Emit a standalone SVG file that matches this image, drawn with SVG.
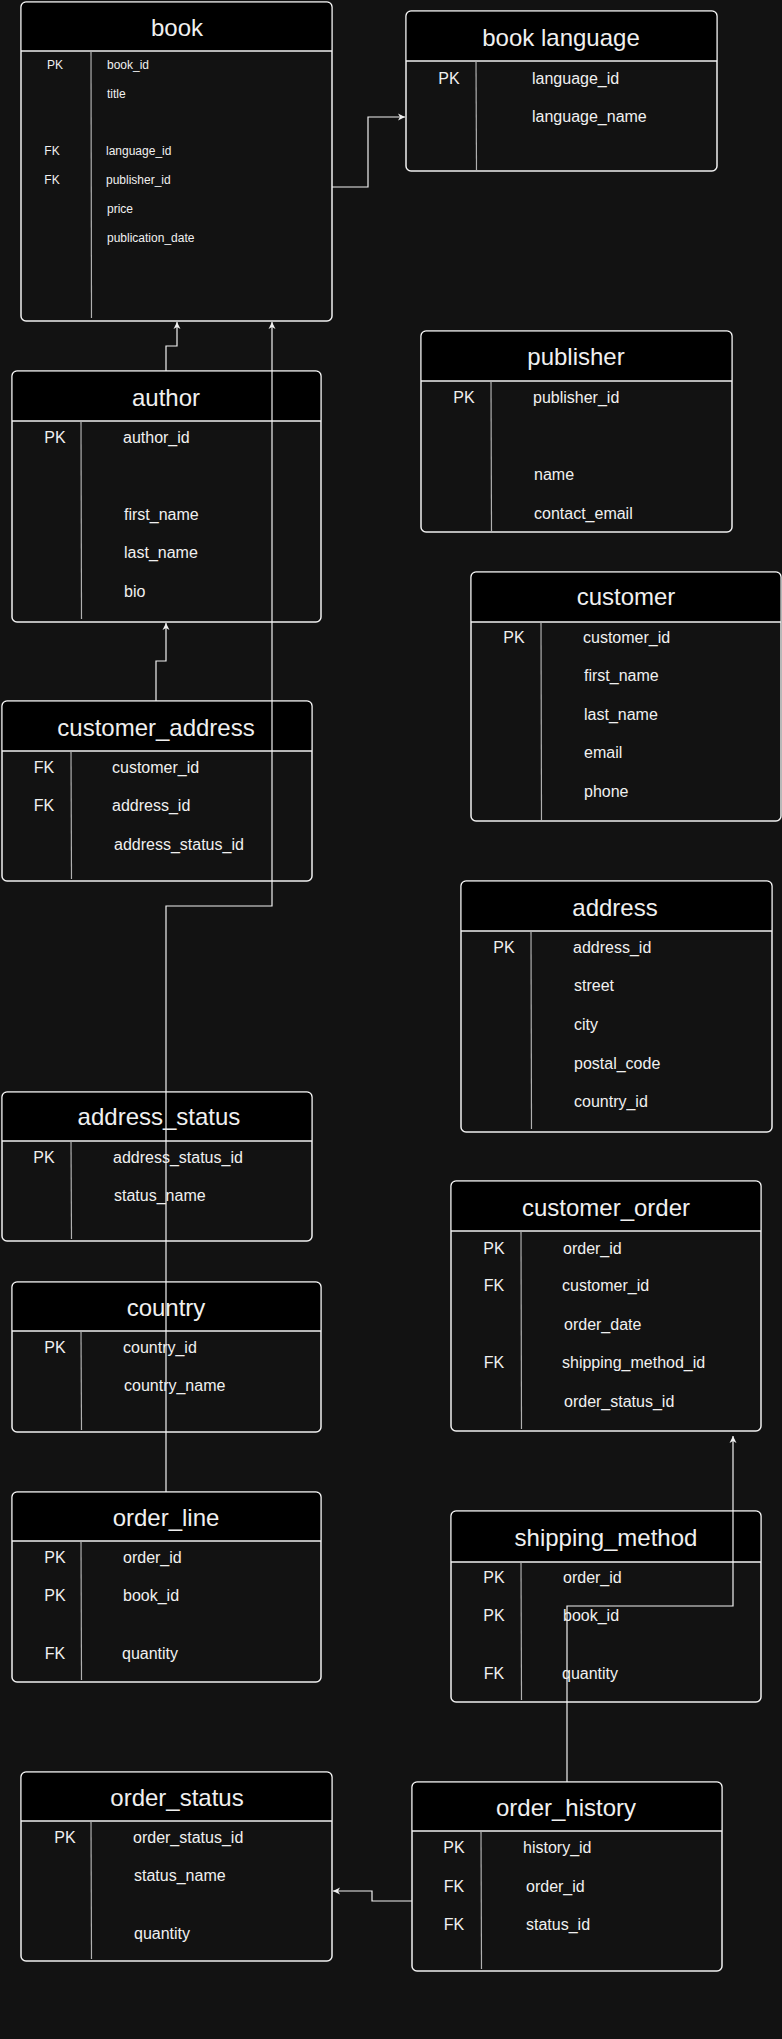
<svg xmlns="http://www.w3.org/2000/svg" width="782" height="2039" viewBox="0 0 782 2039">
<style>
.box{fill:#121212;stroke:#f0f0f0;stroke-width:1.5}
.hdr{fill:#000000}
.sep{stroke:#f0f0f0;stroke-width:1.5}
.div{stroke:#b0b0b0;stroke-width:1.2}
.t{font-family:"Liberation Sans",Arial,sans-serif;fill:#f0f0f0;font-size:24px;text-anchor:middle}
.f{font-family:"Liberation Sans",Arial,sans-serif;fill:#f0f0f0;font-size:16px}
.k{font-family:"Liberation Sans",Arial,sans-serif;fill:#f0f0f0;font-size:16px;text-anchor:middle}
.fs{font-family:"Liberation Sans",Arial,sans-serif;fill:#f0f0f0;font-size:12px}
.ks{font-family:"Liberation Sans",Arial,sans-serif;fill:#f0f0f0;font-size:12px;text-anchor:middle}
.c{fill:none;stroke:#f0f0f0;stroke-width:1.2}
</style>
<defs>
<marker id="arr" markerWidth="8" markerHeight="8" refX="7" refY="4" orient="auto" markerUnits="userSpaceOnUse">
<path d="M0,0.5 L7,4 L0,7.5 L2,4 Z" fill="#f0f0f0"/>
</marker>
</defs>
<rect x="0" y="0" width="782" height="2039" fill="#121212"/>

<g id="book">
<rect class="box" x="21" y="2" width="311" height="319" rx="5"/>
<path class="hdr" d="M26,2.75 H327 A4.25,4.25 0 0 1 331.25,7 V51 H21.75 V7 A4.25,4.25 0 0 1 26,2.75 Z"/>
<line class="sep" x1="21" y1="51" x2="332" y2="51"/>
<line class="div" x1="91" y1="51" x2="91.5" y2="318"/>
<text class="t" x="177" y="36">book</text>
<text class="ks" x="55" y="69">PK</text><text class="fs" x="107" y="69">book_id</text>
<text class="fs" x="107" y="98">title</text>
<text class="ks" x="52" y="155">FK</text><text class="fs" x="106" y="155">language_id</text>
<text class="ks" x="52" y="184">FK</text><text class="fs" x="106" y="184">publisher_id</text>
<text class="fs" x="107" y="213">price</text>
<text class="fs" x="107" y="242">publication_date</text>
</g>

<g id="book_language">
<rect class="box" x="406" y="11" width="311" height="160" rx="5"/>
<path class="hdr" d="M411,11.75 H712 A4.25,4.25 0 0 1 716.25,16 V61 H406.75 V16 A4.25,4.25 0 0 1 411,11.75 Z"/>
<line class="sep" x1="406" y1="61" x2="717" y2="61"/>
<line class="div" x1="476" y1="61" x2="476.5" y2="170"/>
<text class="t" x="561" y="46">book language</text>
<text class="k" x="449" y="84">PK</text><text class="f" x="532" y="84">language_id</text>
<text class="f" x="532" y="122">language_name</text>
</g>

<g id="publisher">
<rect class="box" x="421" y="331" width="311" height="201" rx="5"/>
<path class="hdr" d="M426,331.75 H727 A4.25,4.25 0 0 1 731.25,336 V381 H421.75 V336 A4.25,4.25 0 0 1 426,331.75 Z"/>
<line class="sep" x1="421" y1="381" x2="732" y2="381"/>
<line class="div" x1="491" y1="381" x2="491.5" y2="531"/>
<text class="t" x="576" y="365">publisher</text>
<text class="k" x="464" y="403">PK</text><text class="f" x="533" y="403">publisher_id</text>
<text class="f" x="534" y="480">name</text>
<text class="f" x="534" y="519">contact_email</text>
</g>

<g id="customer">
<rect class="box" x="471" y="572" width="310" height="249" rx="5"/>
<path class="hdr" d="M476,572.75 H776 A4.25,4.25 0 0 1 780.25,577 V622 H471.75 V577 A4.25,4.25 0 0 1 476,572.75 Z"/>
<line class="sep" x1="471" y1="622" x2="781" y2="622"/>
<line class="div" x1="541" y1="622" x2="541.5" y2="820"/>
<text class="t" x="626" y="605">customer</text>
<text class="k" x="514" y="643">PK</text><text class="f" x="583" y="643">customer_id</text>
<text class="f" x="584" y="681">first_name</text>
<text class="f" x="584" y="720">last_name</text>
<text class="f" x="584" y="758">email</text>
<text class="f" x="584" y="797">phone</text>
</g>

<g id="author">
<rect class="box" x="12" y="371" width="309" height="251" rx="5"/>
<path class="hdr" d="M17,371.75 H316 A4.25,4.25 0 0 1 320.25,376 V421 H12.75 V376 A4.25,4.25 0 0 1 17,371.75 Z"/>
<line class="sep" x1="12" y1="421" x2="321" y2="421"/>
<line class="div" x1="81" y1="421" x2="81.5" y2="619"/>
<text class="t" x="166" y="406">author</text>
<text class="k" x="55" y="443">PK</text><text class="f" x="123" y="443">author_id</text>
<text class="f" x="124" y="520">first_name</text>
<text class="f" x="124" y="558">last_name</text>
<text class="f" x="124" y="597">bio</text>
</g>

<g id="customer_address">
<rect class="box" x="2" y="701" width="310" height="180" rx="5"/>
<path class="hdr" d="M7,701.75 H307 A4.25,4.25 0 0 1 311.25,706 V751 H2.75 V706 A4.25,4.25 0 0 1 7,701.75 Z"/>
<line class="sep" x1="2" y1="751" x2="312" y2="751"/>
<line class="div" x1="71" y1="751" x2="71.5" y2="879"/>
<text class="t" x="156" y="736">customer_address</text>
<text class="k" x="44" y="773">FK</text><text class="f" x="112" y="773">customer_id</text>
<text class="k" x="44" y="811">FK</text><text class="f" x="112" y="811">address_id</text>
<text class="f" x="114" y="850">address_status_id</text>
</g>

<g id="address">
<rect class="box" x="461" y="881" width="311" height="251" rx="5"/>
<path class="hdr" d="M466,881.75 H767 A4.25,4.25 0 0 1 771.25,886 V931 H461.75 V886 A4.25,4.25 0 0 1 466,881.75 Z"/>
<line class="sep" x1="461" y1="931" x2="772" y2="931"/>
<line class="div" x1="531" y1="931" x2="531.5" y2="1129"/>
<text class="t" x="615" y="916">address</text>
<text class="k" x="504" y="953">PK</text><text class="f" x="573" y="953">address_id</text>
<text class="f" x="574" y="991">street</text>
<text class="f" x="574" y="1030">city</text>
<text class="f" x="574" y="1069">postal_code</text>
<text class="f" x="574" y="1107">country_id</text>
</g>

<g id="address_status">
<rect class="box" x="2" y="1092" width="310" height="149" rx="5"/>
<path class="hdr" d="M7,1092.75 H307 A4.25,4.25 0 0 1 311.25,1097 V1141 H2.75 V1097 A4.25,4.25 0 0 1 7,1092.75 Z"/>
<line class="sep" x1="2" y1="1141" x2="312" y2="1141"/>
<line class="div" x1="71" y1="1141" x2="71.5" y2="1239"/>
<text class="t" x="159" y="1125">address_status</text>
<text class="k" x="44" y="1163">PK</text><text class="f" x="113" y="1163">address_status_id</text>
<text class="f" x="114" y="1201">status_name</text>
</g>

<g id="customer_order">
<rect class="box" x="451" y="1181" width="310" height="250" rx="5"/>
<path class="hdr" d="M456,1181.75 H756 A4.25,4.25 0 0 1 760.25,1186 V1231 H451.75 V1186 A4.25,4.25 0 0 1 456,1181.75 Z"/>
<line class="sep" x1="451" y1="1231" x2="761" y2="1231"/>
<line class="div" x1="521" y1="1231" x2="521.5" y2="1429"/>
<text class="t" x="606" y="1216">customer_order</text>
<text class="k" x="494" y="1254">PK</text><text class="f" x="563" y="1254">order_id</text>
<text class="k" x="494" y="1291">FK</text><text class="f" x="562" y="1291">customer_id</text>
<text class="f" x="564" y="1330">order_date</text>
<text class="k" x="494" y="1368">FK</text><text class="f" x="562" y="1368">shipping_method_id</text>
<text class="f" x="564" y="1407">order_status_id</text>
</g>

<g id="country">
<rect class="box" x="12" y="1282" width="309" height="150" rx="5"/>
<path class="hdr" d="M17,1282.75 H316 A4.25,4.25 0 0 1 320.25,1287 V1331 H12.75 V1287 A4.25,4.25 0 0 1 17,1282.75 Z"/>
<line class="sep" x1="12" y1="1331" x2="321" y2="1331"/>
<line class="div" x1="81" y1="1331" x2="81.5" y2="1430"/>
<text class="t" x="166" y="1316">country</text>
<text class="k" x="55" y="1353">PK</text><text class="f" x="123" y="1353">country_id</text>
<text class="f" x="124" y="1391">country_name</text>
</g>

<g id="order_line">
<rect class="box" x="12" y="1492" width="309" height="190" rx="5"/>
<path class="hdr" d="M17,1492.75 H316 A4.25,4.25 0 0 1 320.25,1497 V1541 H12.75 V1497 A4.25,4.25 0 0 1 17,1492.75 Z"/>
<line class="sep" x1="12" y1="1541" x2="321" y2="1541"/>
<line class="div" x1="81" y1="1541" x2="81.5" y2="1680"/>
<text class="t" x="166" y="1526">order_line</text>
<text class="k" x="55" y="1563">PK</text><text class="f" x="123" y="1563">order_id</text>
<text class="k" x="55" y="1601">PK</text><text class="f" x="123" y="1601">book_id</text>
<text class="k" x="55" y="1659">FK</text><text class="f" x="122" y="1659">quantity</text>
</g>

<g id="shipping_method">
<rect class="box" x="451" y="1511" width="310" height="191" rx="5"/>
<path class="hdr" d="M456,1511.75 H756 A4.25,4.25 0 0 1 760.25,1516 V1562 H451.75 V1516 A4.25,4.25 0 0 1 456,1511.75 Z"/>
<line class="sep" x1="451" y1="1562" x2="761" y2="1562"/>
<line class="div" x1="521" y1="1562" x2="521.5" y2="1700"/>
<text class="t" x="606" y="1546">shipping_method</text>
<text class="k" x="494" y="1583">PK</text><text class="f" x="563" y="1583">order_id</text>
<text class="k" x="494" y="1621">PK</text><text class="f" x="563" y="1621">book_id</text>
<text class="k" x="494" y="1679">FK</text><text class="f" x="562" y="1679">quantity</text>
</g>

<g id="order_status">
<rect class="box" x="21" y="1772" width="311" height="189" rx="5"/>
<path class="hdr" d="M26,1772.75 H327 A4.25,4.25 0 0 1 331.25,1777 V1821 H21.75 V1777 A4.25,4.25 0 0 1 26,1772.75 Z"/>
<line class="sep" x1="21" y1="1821" x2="332" y2="1821"/>
<line class="div" x1="91" y1="1821" x2="91.5" y2="1959"/>
<text class="t" x="177" y="1806">order_status</text>
<text class="k" x="65" y="1843">PK</text><text class="f" x="133" y="1843">order_status_id</text>
<text class="f" x="134" y="1881">status_name</text>
<text class="f" x="134" y="1939">quantity</text>
</g>

<g id="order_history">
<rect class="box" x="412" y="1782" width="310" height="189" rx="5"/>
<path class="hdr" d="M417,1782.75 H717 A4.25,4.25 0 0 1 721.25,1787 V1831 H412.75 V1787 A4.25,4.25 0 0 1 417,1782.75 Z"/>
<line class="sep" x1="412" y1="1831" x2="722" y2="1831"/>
<line class="div" x1="481" y1="1831" x2="481.5" y2="1969"/>
<text class="t" x="566" y="1816">order_history</text>
<text class="k" x="454" y="1853">PK</text><text class="f" x="523" y="1853">history_id</text>
<text class="k" x="454" y="1892">FK</text><text class="f" x="526" y="1892">order_id</text>
<text class="k" x="454" y="1930">FK</text><text class="f" x="526" y="1930">status_id</text>
</g>

<g id="connectors">
<path class="c" d="M332,187 H368 V117 H405" marker-end="url(#arr)"/>
<path class="c" d="M166,371 V346 H177 V322" marker-end="url(#arr)"/>
<path class="c" d="M166,1492 V906 H272 V322" marker-end="url(#arr)"/>
<path class="c" d="M156,701 V661 H166 V623" marker-end="url(#arr)"/>
<path class="c" d="M567,1782 V1606 H733 V1436" marker-end="url(#arr)"/>
<path class="c" d="M412,1901 H372 V1891 H333" marker-end="url(#arr)"/>
</g>
</svg>
